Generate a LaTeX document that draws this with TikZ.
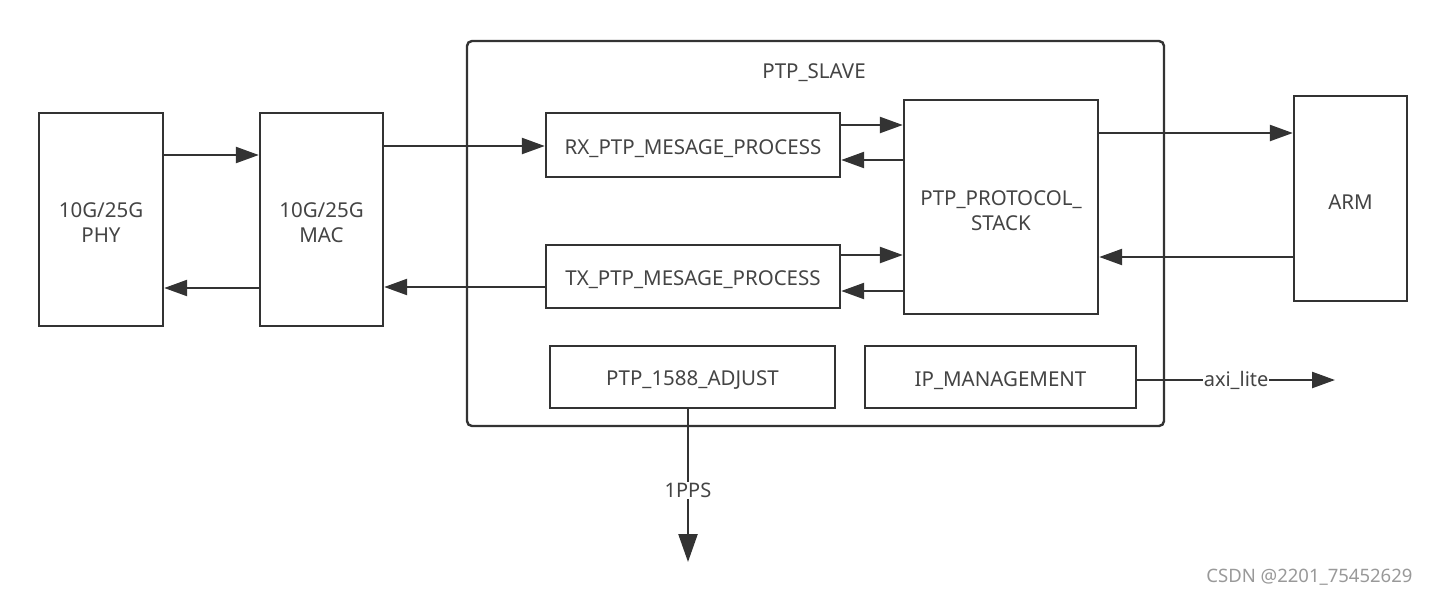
\documentclass[tikz,border=0pt]{standalone}
\usepackage{fontspec}
\setmainfont{Noto Sans}
\usetikzlibrary{arrows.meta}
\definecolor{ln}{HTML}{333333}
\definecolor{tx}{HTML}{444444}
\begin{document}
\begin{tikzpicture}[x=1pt,y=-1pt,
  box/.style={draw=ln,line width=2.4pt,rectangle,inner sep=0pt},
  bt/.style={align=center,text=tx,font=\fontsize{20.5}{25}\selectfont,yshift=-3.5pt,inner sep=0pt},
  conn/.style={draw=ln,line width=2.4pt,-{Triangle[length=23pt,width=16pt]}},
  lbl/.style={fill=white,inner sep=1pt,text=tx,font=\fontsize{20}{24}\selectfont}]
\useasboundingbox (0,0) rectangle (1429,595);
\fill[white] (0,0) rectangle (1429,595);
\node[box,minimum width=124pt,minimum height=213pt,label={[bt]center:{10G/25G\\PHY}}] (phy) at (101,219.5) {};
\node[box,minimum width=123pt,minimum height=213pt,label={[bt]center:{10G/25G\\MAC}}] (mac) at (321.5,219.5) {};
\node[box,rounded corners=5pt,minimum width=697pt,minimum height=385pt] (slave) at (815.5,233.5) {};
\node[text=tx,font=\fontsize{20.5}{25}\selectfont] (title) at (814,73) {PTP\_SLAVE};
\node[box,minimum width=294pt,minimum height=64pt,label={[bt]center:RX\_PTP\_MESAGE\_PROCESS}] (rx) at (693,145) {};
\node[box,minimum width=294pt,minimum height=63pt,label={[bt]center:TX\_PTP\_MESAGE\_PROCESS}] (tx) at (693,276.5) {};
\node[box,minimum width=194pt,minimum height=214pt,label={[bt]center:{PTP\_PROTOCOL\_\\STACK}}] (stack) at (1001,207) {};
\node[box,minimum width=113pt,minimum height=205pt,label={[bt]center:ARM}] (arm) at (1350.5,198.5) {};
\node[box,minimum width=285pt,minimum height=62pt,label={[bt]center:PTP\_1588\_ADJUST}] (adj) at (692.5,377) {};
\node[box,minimum width=271pt,minimum height=62pt,label={[bt]center:IP\_MANAGEMENT}] (ipm) at (1000.5,377) {};
\coordinate (axiend) at (1335,380);
\coordinate (ppsend) at (688,562);
% connectors
\draw[conn] (phy.east |- 0,155) -- (mac.west |- 0,155);
\draw[conn] (mac.west |- 0,288) -- (phy.east |- 0,288);
\draw[conn] (mac.east |- 0,146) -- (rx.west |- 0,146);
\draw[conn] (tx.west |- 0,287) -- (mac.east |- 0,287);
\draw[conn] (rx.east |- 0,125) -- (stack.west |- 0,125);
\draw[conn] (stack.west |- 0,160) -- (rx.east |- 0,160);
\draw[conn] (tx.east |- 0,255) -- (stack.west |- 0,255);
\draw[conn] (stack.west |- 0,291) -- (tx.east |- 0,291);
\draw[conn] (stack.east |- 0,133) -- (arm.west |- 0,133);
\draw[conn] (arm.west |- 0,257) -- (stack.east |- 0,257);
\draw[conn] (ipm.east |- axiend) -- node[lbl,pos=0.5] (axi) {axi\_lite} (axiend);
\draw[conn,-{Triangle[length=28pt,width=19pt]}] (adj.south -| ppsend) -- node[lbl,pos=0.53] (pps) {1PPS} (ppsend);
\node[text=gray!80,font=\fontsize{18.5}{22}\selectfont,anchor=east] (wm) at (1416,577) {CSDN @2201\_75452629};
\end{tikzpicture}
\end{document}
